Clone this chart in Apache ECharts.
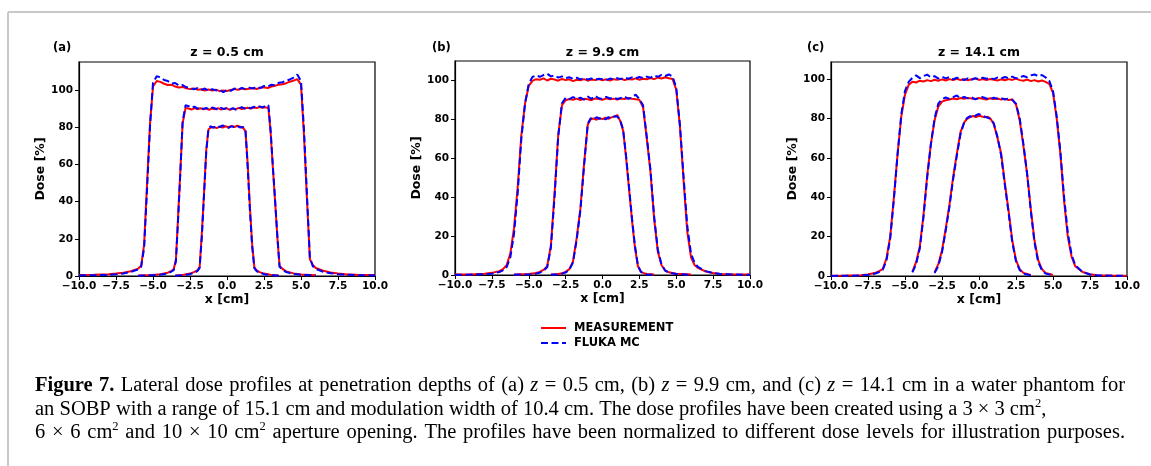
<!DOCTYPE html>
<html>
<head>
<meta charset="utf-8">
<script src="https://cdn.jsdelivr.net/npm/echarts@6/dist/echarts.min.js"></script>
<style>html,body{margin:0;padding:0;background:#fff;}#c{width:1151px;height:466px;}</style>
</head>
<body>
<div id="c"></div>
<script>
// ---------- DATA ----------
const panelTitles = ['z = 0.5 cm', 'z = 9.9 cm', 'z = 14.1 cm'];
const panelLetters = ['(a)', '(b)', '(c)'];
const xTicks = [-10, -7.5, -5, -2.5, 0, 2.5, 5, 7.5, 10];
const yTicks = [0, 20, 40, 60, 80, 100];
const yMax = [115.2, 109.7, 108.6];
const seriesNames = ['MEASUREMENT', 'FLUKA MC'];

// panel (a) z = 0.5 cm
const xA10 = [-10,-9,-8,-7.5,-7,-6.5,-6,-5.8,-5.6,-5.4,-5.2,-5,-4.75,-4.5,-4.25,-4,-3.75,-3.5,-3.25,-3,-2.75,-2.5,-2.25,-2,-1.75,-1.5,-1.25,-1,-0.75,-0.5,-0.25,0,0.25,0.5,0.75,1,1.25,1.5,1.75,2,2.25,2.5,2.75,3,3.25,3.5,3.75,4,4.25,4.5,4.75,5,5.2,5.4,5.6,5.8,6,6.5,7,7.5,8,9,10];
const measA10 = [0.5,0.7,1.0,1.3,1.8, 2.6,4.0,5.5,17,50, 82,102,105,104.5,103.5, 102.8,103,102,101.5,101.8, 101,100.6,101,100.3,100.5, 99.8,100.4,99.9,100.3,99.5, 99.8,99.6,100.2,100.6,100.3, 100.9,100.5,100.8,101.2,100.7, 101.3,101.6,101.2,102,102.4, 103,103.2,103.8,104.6,105.2, 106,103,76,42,9, 6,4.3,2.8,1.9,1.3, 1.0,0.6,0.5];
const mcA10 = [0.3,0.4,0.6,0.9,1.4, 2.2,3.6,5,15,47, 81,104,107.5,107,105.5, 105,103.6,103.9,102.5,102.8, 101.6,101.3,100.5,101.1,100.2, 100.9,99.8,100.6,99.9,100.4, 98.9,100.2,99.7,100.9,100.2, 101.3,100.6,101.4,100.9,101.8, 101.2,102.3,101.9,103,102.6, 104,104.3,105.2,105.8,106.8, 108.5,105,79,44,10, 5.2,3.8,2.3,1.5,1.0, 0.7,0.4,0.3];
const xA6 = [-6,-5,-4.5,-4,-3.75,-3.6,-3.45,-3.3,-3.15,-3,-2.8,-2.6,-2.4,-2.2,-2,-1.8,-1.6,-1.4,-1.2,-1,-0.8,-0.6,-0.4,-0.2,0,0.2,0.4,0.6,0.8,1,1.2,1.4,1.6,1.8,2,2.2,2.4,2.6,2.8,2.95,3.1,3.25,3.4,3.55,3.75,4,4.5,5,6];
const measA6 = [0.3,0.6,1.0,1.8,2.8, 3.6,9,33,57,82, 90.5,90.2,89.6,90.4,89.8, 90.3,89.7,90.1,89.5,90.2, 89.8,90.4,89.6,90,90.3, 89.4,90.1,89.8,90.5,89.9, 90.3,90.6,90.1,90.7,90.4, 90.9,90.5,90.8,90.3,77, 58,40,21,5.5,3.8, 2.5,1.4,0.8,0.4];
const mcA6 = [0.2,0.4,0.7,1.4,2.4, 3.2,8,31,56,83, 92,91.4,90.6,91.2,90.1, 90.8,89.9,90.5,89.6,90.7, 90.2,89.4,90.5,89.8,90.6, 89.7,90.4,89.5,90.3,90.9, 90.1,90.8,90.3,91.1,90.5, 91.3,90.8,91.6,91.9,78, 59,41,22,5,3.4, 2.1,1.1,0.6,0.3];
const xA3 = [-3.5,-3,-2.5,-2.2,-2,-1.85,-1.7,-1.55,-1.4,-1.25,-1.1,-0.9,-0.7,-0.5,-0.3,-0.1,0.1,0.3,0.5,0.7,0.9,1.1,1.25,1.4,1.55,1.7,1.85,2,2.2,2.5,3,3.5];
const measA3 = [0.3,0.6,1.3,2.2,3.0, 4.8,23,45,68,79, 79.8,80.3,79.6,80.4,79.9, 80.6,80.1,80.8,80.2,80.9, 80.4,79.6,78,60,37, 17,4.6,3.0,2.1,1.3, 0.6,0.3];
const mcA3 = [0.2,0.4,1.0,1.8,2.6, 4.4,21,44,67,79.5, 80.6,79.8,80.9,80.2,81.1, 80.3,79.7,80.6,80.1,80.7, 79.9,80.2,78.5,58,35, 16,4.2,2.6,1.8,1.0, 0.4,0.2];

// panel (b) z = 9.9 cm
const xB10 = [-10,-9,-8,-7.5,-7,-6.75,-6.5,-6.25,-6,-5.75,-5.5,-5.25,-5,-4.75,-4.5,-4.25,-4,-3.75,-3.5,-3.25,-3,-2.75,-2.5,-2.25,-2,-1.75,-1.5,-1.25,-1,-0.75,-0.5,-0.25,0,0.25,0.5,0.75,1,1.25,1.5,1.75,2,2.25,2.5,2.75,3,3.25,3.5,3.75,4,4.25,4.5,4.75,5,5.25,5.5,5.75,6,6.25,6.5,7,7.5,8,9,10];
const measB10 = [0.2,0.3,0.6,1.1,2.0, 3.0,5.0,11,24,45, 72,88,97,99.5,100.4, 100.1,100.8,99.7,100.6,100.2, 99.6,100.5,99.9,100.3,99.4, 100.1,99.8,100.4,99.6,100.2, 99.9,100.5,99.8,100.3,99.7, 100.4,100.1,100.6,99.9,100.5, 100.2,100.8,100.1,100.6,100.3, 101,100.4,101.2,100.7,101.4, 100.9,100.5,95,76,48, 22,9,5,3.5,1.8, 1.0,0.5,0.3,0.2];
const mcB10 = [0.1,0.2,0.4,0.7,1.5, 2.4,4.0,9,21,42, 70,88,98,101.5,102.3, 101.6,102.5,103.2,101.8,102.4, 101.2,101.8,100.9,101.4,100.6, 101.1,100.3,100.9,100.2,100.7, 100.1,100.6,100.3,99.9,100.7, 100.2,100.9,100.4,101.2,100.6, 101.3,100.8,101.5,100.9,101.7, 101.1,102.3,101.6,102.6,102, 102.8,101.8,96,77,50, 25,11,6,4,2.0, 1.0,0.5,0.2,0.1];
const xB6 = [-6,-5,-4.5,-4.25,-4,-3.75,-3.5,-3.25,-3,-2.75,-2.5,-2.25,-2,-1.75,-1.5,-1.25,-1,-0.75,-0.5,-0.25,0,0.25,0.5,0.75,1,1.25,1.5,1.75,2,2.25,2.5,2.75,3,3.25,3.5,3.75,4,4.25,4.5,5,6];
const measB6 = [0.2,0.5,1.0,1.6,2.6, 4.5,15,42,72,87, 89.6,90.2,89.8,90.4,89.7, 90.3,90.1,89.6,90.5,90.2, 89.8,90.6,90.1,90.4,89.9, 90.5,90.2,90.7,90.3,90.1, 89.8,86,70,53,29, 12,5,2.4,1.4,0.6, 0.2];
const mcB6 = [0.1,0.3,0.7,1.2,2.2, 4.0,14,40,71,88, 90.8,90.1,91.2,90.4,90.9, 89.9,91.5,90.3,91.8,90.6, 90.2,91.3,90.5,91.0,90.2, 90.8,91.4,90.3,90.9,92.5, 90.2,87,71,54,30, 13,5.5,2.2,1.2,0.5, 0.1];
const xB3 = [-3.5,-3,-2.75,-2.5,-2.25,-2,-1.75,-1.5,-1.25,-1,-0.8,-0.6,-0.4,-0.2,0,0.2,0.4,0.6,0.8,1,1.2,1.4,1.6,1.8,2,2.2,2.4,2.6,2.8,3,3.5];
const measB3 = [0.2,0.5,0.9,1.6,3.0, 7,19,34,57,77, 79.8,80.2,79.6,80.4,79.9, 80.6,80.1,80.8,81.2,82, 79,74,60,44,28, 14,4.5,1.8,0.9,0.5, 0.2];
const mcB3 = [0.1,0.3,0.7,1.3,2.6, 6.5,18,33,56,77.5, 80.4,79.7,80.9,80.1,80.6, 79.8,80.9,80.3,81.4,81.2, 79.5,74.5,61,45,29, 15,5,1.6,0.7,0.3, 0.1];

// panel (c) z = 14.1 cm
const xC10 = [-10,-9,-8,-7.5,-7,-6.75,-6.5,-6.25,-6,-5.75,-5.5,-5.25,-5,-4.75,-4.5,-4.25,-4,-3.75,-3.5,-3.25,-3,-2.75,-2.5,-2.25,-2,-1.75,-1.5,-1.25,-1,-0.75,-0.5,-0.25,0,0.25,0.5,0.75,1,1.25,1.5,1.75,2,2.25,2.5,2.75,3,3.25,3.5,3.75,4,4.25,4.5,4.75,5,5.25,5.5,5.75,6,6.25,6.5,7,7.5,8,9,10];
const measC10 = [0.1,0.2,0.4,0.8,1.6, 2.4,3.6,9,20,40, 62,81,92,97,98.6, 98.2,99.1,98.7,99.4,98.9, 99.6,99.1,99.8,99.2,99.9, 99.4,100.1,99.5,99.9,99.3, 99.8,100.2,99.5,99.9,99.4, 100,99.6,99.2,99.8,99.3, 99.9,99.5,100.2,99.4,99.1, 99.7,98.9,99.4,98.7,99.2, 98.5,97.5,93,80,62, 38,20,10,5,2.0, 0.9,0.4,0.2,0.1];
const mcC10 = [0.05,0.1,0.3,0.6,1.3, 2.0,3.2,8,19,39, 62,82,94,98.5,100.6, 101.8,100.4,101.5,102.2,100.8, 101.4,100.2,101.1,100.3,100.9, 99.8,100.6,100.1,99.4,100.3, 99.6,100.4,99.8,100.6,100.1, 100.5,99.9,100.7,100.2,101, 100.4,101.2,100.3,100.8,101.5, 100.9,101.8,102.3,101.4,102, 100.8,99,94,81,63, 40,22,11,5.5,2.0, 0.8,0.3,0.1,0.05];
const xC6 = [-4.5,-4.25,-4,-3.75,-3.5,-3.25,-3,-2.75,-2.5,-2.25,-2,-1.75,-1.5,-1.25,-1,-0.75,-0.5,-0.25,0,0.25,0.5,0.75,1,1.25,1.5,1.75,2,2.25,2.5,2.75,3,3.25,3.5,3.75,4,4.25,4.5,5];
const measC6 = [2.2,7,15,31,51, 67,79,86,88.5,89.2, 89.6,90.1,89.7,90.3,89.9, 90.4,90.1,89.8,90.3,90.0, 89.6,90.2,89.8,90.1,89.5, 89.9,89.3,89.6,87,79, 66,52,34,18,8, 3.5,1.5,0.5];
const mcC6 = [1.8,6,14,30,50, 67,80,87.5,89.8,90.6, 89.9,90.8,91.6,90.2,90.9, 90.1,90.7,89.6,90.4,90.8, 90.1,89.7,90.5,89.9,90.3, 89.6,90.1,89.4,87.5,80, 67,52,33,17,7, 3,1.2,0.3];
const xC3 = [-3,-2.75,-2.5,-2.25,-2,-1.75,-1.5,-1.25,-1,-0.8,-0.6,-0.4,-0.2,0,0.2,0.4,0.6,0.8,1,1.25,1.5,1.75,2,2.25,2.5,2.75,3,3.5];
const measC3 = [2,6,13,24,36, 50,62,73,78,79.8, 80.6,81.2,80.7,81.3,80.9, 80.5,80.8,79.6,77,70, 62,47,33,18,8, 3.5,1.6,0.5];
const mcC3 = [1.5,5,12,23,35, 49,61,72,78,80.3, 81.1,80.4,81.6,82.2,81.4, 80.9,80.2,79.8,77.5,70.5, 61,46,32,17,7.5, 3,1.2,0.3];

// caption text (rich markup: b = bold, i = italic, s = superscript)
const captionLines = [
  '{b|Figure 7.} Lateral dose profiles at penetration depths of (a) {i|z} = 0.5 cm, (b) {i|z} = 9.9 cm, and (c) {i|z} = 14.1 cm in a water phantom for',
  'an SOBP with a range of 15.1 cm and modulation width of 10.4 cm. The dose profiles have been created using a 3 \u00d7 3 cm{s|2},',
  '6 \u00d7 6 cm{s|2} and 10 \u00d7 10 cm{s|2} aperture opening. The profiles have been normalized to different dose levels for illustration purposes.'
];

// ---------- CHART ----------
const panelData = [
  {x: [xA10, xA6, xA3], meas: [measA10, measA6, measA3], mc: [mcA10, mcA6, mcA3]},
  {x: [xB10, xB6, xB3], meas: [measB10, measB6, measB3], mc: [mcB10, mcB6, mcB3]},
  {x: [xC10, xC6, xC3], meas: [measC10, measC6, measC3], mc: [mcC10, mcC6, mcC3]}
];
const grids = [
  {left: 79, top: 62, width: 296, height: 214},
  {left: 455, top: 61, width: 295, height: 214},
  {left: 831, top: 62, width: 296, height: 214}
];
const SANS = 'DejaVu Sans';
const zip = (xs, ys) => xs.map((x, i) => [x, ys[i]]);
const fmtX = v => (v < 0 ? '\u2212' : '') + Math.abs(v).toFixed(1);

const option = {
  animation: false,
  backgroundColor: '#fff',
  grid: grids.map(g => Object.assign({show: true, borderColor: '#000', borderWidth: 1.2, backgroundColor: 'transparent'}, g)),
  xAxis: grids.map((g, i) => ({
    type: 'value', gridIndex: i, min: -10, max: 10, interval: 2.5,
    name: 'x [cm]', nameLocation: 'middle', nameGap: 17,
    nameTextStyle: {fontFamily: SANS, fontWeight: 'bold', fontSize: 12.5, color: '#000'},
    axisLine: {onZero: false, lineStyle: {color: '#000', width: 1.2}},
    axisTick: {show: true, length: 4, lineStyle: {color: '#000', width: 1}, customValues: xTicks},
    axisLabel: {customValues: xTicks, formatter: fmtX, fontFamily: SANS, fontWeight: 'bold', fontSize: 10.5, color: '#000', margin: 5},
    splitLine: {show: false}
  })),
  yAxis: grids.map((g, i) => ({
    type: 'value', gridIndex: i, min: 0, max: yMax[i], interval: 20,
    name: 'Dose [%]', nameLocation: 'middle', nameGap: 25,
    nameTextStyle: {fontFamily: SANS, fontWeight: 'bold', fontSize: 12.5, color: '#000'},
    axisLine: {onZero: false, lineStyle: {color: '#000', width: 1.2}},
    axisTick: {show: true, length: 4, lineStyle: {color: '#000', width: 1}, customValues: yTicks},
    axisLabel: {customValues: yTicks, fontFamily: SANS, fontWeight: 'bold', fontSize: 10.5, color: '#000', margin: 6},
    splitLine: {show: false}
  })),
  legend: {
    data: seriesNames, orient: 'vertical', left: 535, top: 317,
    itemWidth: 25, itemHeight: 14, itemGap: 3,
    itemStyle: {opacity: 0, borderWidth: 0},
    textStyle: {fontFamily: SANS, fontWeight: 'bold', fontSize: 11.5, color: '#000', padding: [0, 0, 0, 3]}
  },
  series: [],
  graphic: []
};

panelData.forEach((p, i) => {
  p.x.forEach((xs, k) => {
    option.series.push({
      name: seriesNames[0], type: 'line', xAxisIndex: i, yAxisIndex: i,
      data: zip(xs, p.meas[k]), symbol: 'none', showSymbol: false, z: 2,
      lineStyle: {color: '#ff0000', width: 2}, itemStyle: {color: '#ff0000'}
    });
  });
  p.x.forEach((xs, k) => {
    option.series.push({
      name: seriesNames[1], type: 'line', xAxisIndex: i, yAxisIndex: i,
      data: zip(xs, p.mc[k]), symbol: 'none', showSymbol: false, z: 3,
      lineStyle: {color: '#0000ff', width: 2, type: [7, 3.5]}, itemStyle: {color: '#0000ff'}
    });
  });
});

// figure frame lines
option.graphic.push({type: 'line', shape: {x1: 8, y1: 12, x2: 1151, y2: 12}, style: {stroke: '#c8c8c8', lineWidth: 2}});
option.graphic.push({type: 'line', shape: {x1: 8, y1: 12, x2: 8, y2: 466}, style: {stroke: '#c8c8c8', lineWidth: 2}});

// titles and panel letters
const titleX = grids.map(g => g.left + g.width / 2);
const letterX = [53, 432, 807];
panelTitles.forEach((t, i) => {
  option.graphic.push({type: 'text', x: titleX[i], y: 53, style: {text: t, font: 'bold 12.5px "DejaVu Sans"', fill: '#000', align: 'center', verticalAlign: 'middle'}});
  option.graphic.push({type: 'text', x: letterX[i], y: 48, style: {text: panelLetters[i], font: 'bold 11.5px "DejaVu Sans"', fill: '#000', align: 'left', verticalAlign: 'middle'}});
});

// caption: lines built word by word (first and last line justified)
const CAP_FS = 20.5, SUP_FS = 12.5;
const capFont = st => st === 'b' ? `bold ${CAP_FS}px "Liberation Serif"` : st === 'i' ? `italic ${CAP_FS}px "Liberation Serif"` : st === 's' ? `${SUP_FS}px "Liberation Serif"` : `${CAP_FS}px "Liberation Serif"`;
const mctx = document.createElement('canvas').getContext('2d');
const measure = (t, st) => { mctx.font = capFont(st); return mctx.measureText(t).width; };
function toWords(str) {
  const segs = []; const re = /\{(\w)\|([^}]*)\}|([^{]+)/g; let m;
  while ((m = re.exec(str))) segs.push(m[1] ? {st: m[1], t: m[2]} : {st: 'r', t: m[3]});
  const words = [[]];
  segs.forEach(s => s.t.split(' ').forEach((p, j) => { if (j > 0) words.push([]); if (p) words[words.length - 1].push({st: s.st, t: p}); }));
  return words.filter(w => w.length);
}
const capLeft = 35, capRight = 1125;
const captionY = [386, 409.5, 433];
const capWords = captionLines.map(toWords);
const wordW = w => w.reduce((a, s) => a + measure(s.t, s.st), 0);
const spaceW = measure(' ', 'r');
capWords.forEach((words, li) => {
  const total = words.reduce((a, w) => a + wordW(w), 0);
  let gap = spaceW;
  if (li !== 1) gap = Math.max(spaceW * 0.8, ((capRight - capLeft) - total) / (words.length - 1));
  let x = 0;
  words.forEach(w => {
    w.forEach(s => {
      option.graphic.push({type: 'text', x: capLeft + x, y: captionY[li] + (s.st === 's' ? -6 : 0),
        style: {text: s.t, font: capFont(s.st), fill: '#000', align: 'left', verticalAlign: 'middle'}});
      x += measure(s.t, s.st);
    });
    x += gap;
  });
});

const chart = echarts.init(document.getElementById('c'));
chart.setOption(option);
</script>
</body>
</html>
